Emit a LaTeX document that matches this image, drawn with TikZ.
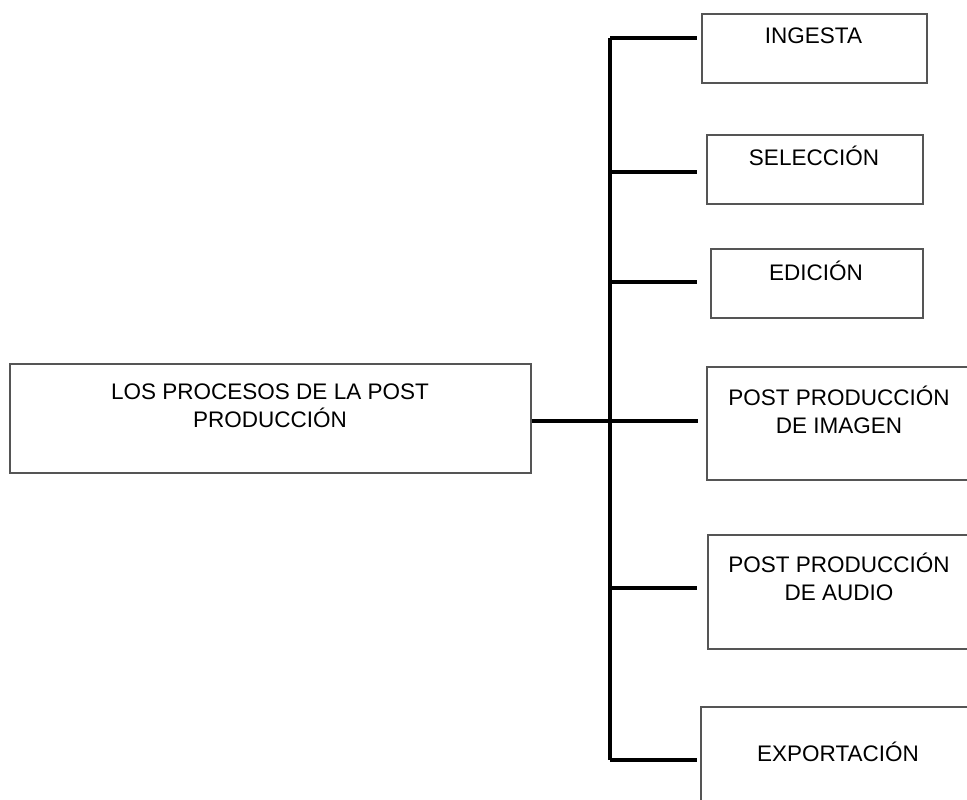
\documentclass[tikz,border=0pt]{standalone}
\usepackage{fontspec}
\setmainfont{Liberation Sans}
\definecolor{boxgray}{HTML}{555555}
\begin{document}
\begin{tikzpicture}[x=1pt,y=-1pt,
  box/.style={draw=boxgray, line width=1.8pt, rectangle, inner sep=0pt, anchor=north west},
  lbl/.style={font=\fontsize{22.5}{28}\selectfont, align=center, anchor=base, inner sep=0pt},
  conn/.style={line width=3.3pt, black}]
\useasboundingbox (0,0) rectangle (967,800);
% boxes
\node[box, minimum width=521pt, minimum height=109pt] (main) at (9,363) {};
\node[box, minimum width=225pt, minimum height=69pt] (ing) at (701,13) {};
\node[box, minimum width=216pt, minimum height=69pt] (sel) at (706,134) {};
\node[box, minimum width=212pt, minimum height=69pt] (edi) at (710,248) {};
\node[box, minimum width=266pt, minimum height=113pt] (img) at (706,366) {};
\node[box, minimum width=264pt, minimum height=114pt] (aud) at (707,534) {};
\node[box, minimum width=276pt, minimum height=110pt] (exp) at (700,706) {};
% texts (base anchor = baseline of the last line)
\node[lbl] (mainT) at (270,427) {LOS PROCESOS DE LA POST\\PRODUCCIÓN};
\node[lbl] (ingT) at (813.5,44) {INGESTA};
\node[lbl] (selT) at (814,165) {SELECCIÓN};
\node[lbl] (ediT) at (816,280) {EDICIÓN};
\node[lbl] (imgT) at (839,433) {POST PRODUCCIÓN\\DE IMAGEN};
\node[lbl] (audT) at (839,600) {POST PRODUCCIÓN\\DE AUDIO};
\node[lbl] (expT) at (838,761) {EXPORTACIÓN};
% connector coordinates
\coordinate (t1) at (610,38);
\coordinate (t2) at (610,172);
\coordinate (t3) at (610,282);
\coordinate (J)  at (610,421);
\coordinate (t5) at (610,588);
\coordinate (t6) at (610,760);
\coordinate (e1) at (697,38);
\coordinate (e2) at (697,172);
\coordinate (e3) at (697,282);
\coordinate (e4) at (698,421);
\coordinate (e5) at (697,588);
\coordinate (e6) at (697,760);
% connectors
\draw[conn] (t1) -- (t6);
\draw[conn] (main.east |- J) -- (J);
\draw[conn] (t1) -- (e1);
\draw[conn] (t2) -- (e2);
\draw[conn] (t3) -- (e3);
\draw[conn] (J) -- (e4);
\draw[conn] (t5) -- (e5);
\draw[conn] (t6) -- (e6);
\end{tikzpicture}
\end{document}
